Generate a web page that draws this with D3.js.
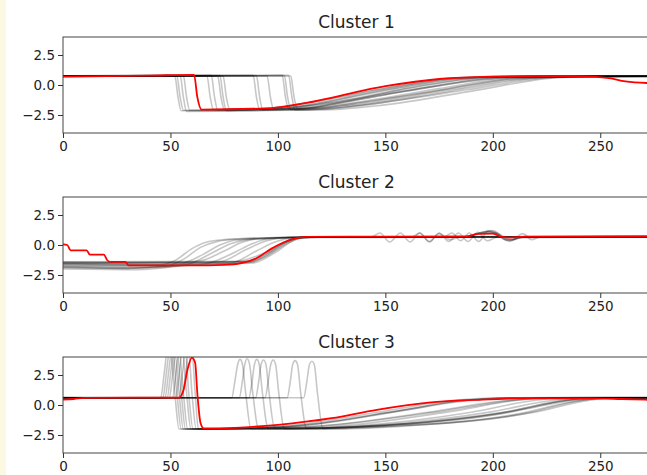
<!DOCTYPE html>
<html>
<head>
<meta charset="utf-8">
<script src="https://cdn.jsdelivr.net/npm/d3@7"></script>
<style>
  html, body { margin: 0; padding: 0; background: #ffffff; }
  svg { display: block; }
</style>
</head>
<body>
<svg id="chart" width="647" height="475"></svg>
<script>
// ---------- DATA (key points) ----------
const clusterTitles = ["Cluster 1", "Cluster 2", "Cluster 3"];
const xTicks = [0, 50, 100, 150, 200, 250];
const yTicks = [-2.5, 0, 2.5];
const xDomain = [0, 275];
const yDomain = [-4, 4];

// Cluster 1 members: [t, value] key points
const cluster1Series = [
  [[0,0.74],[52,0.78],[53.5,-1.0],[55,-2.15],[75,-2.15],[95,-1.95],[150,-0.25],[180,0.55],[205,0.72],[275,0.75]],
  [[0,0.72],[53,0.75],[54.5,-1.0],[56,-2.1],[80,-2.1],[105,-1.9],[150,-0.4],[185,0.55],[210,0.7],[275,0.74]],
  [[0,0.75],[54.5,0.8],[56,-1.0],[57.5,-2.2],[85,-2.15],[115,-1.85],[160,-0.5],[200,0.55],[225,0.7],[275,0.72]],
  [[0,0.73],[56,0.78],[57.5,-1.0],[59,-2.1],[90,-2.05],[110,-1.75],[155,-0.3],[190,0.6],[215,0.72],[275,0.75]],
  [[0,0.74],[67,0.75],[68.5,-1.0],[70,-2.05],[95,-2.0],[118,-1.65],[160,-0.3],[195,0.6],[220,0.72],[275,0.73]],
  [[0,0.76],[69,0.8],[70.5,-1.0],[72,-2.1],[100,-2.05],[125,-1.8],[170,-0.6],[210,0.55],[230,0.68],[275,0.72]],
  [[0,0.73],[72,0.75],[73.5,-1.0],[75,-2.0],[95,-1.95],[112,-1.55],[158,-0.05],[185,0.6],[210,0.72],[275,0.75]],
  [[0,0.75],[73,0.78],[74.5,-1.0],[76,-2.15],[105,-2.1],[135,-1.7],[180,-0.4],[215,0.55],[235,0.68],[275,0.72]],
  [[0,0.72],[74.5,0.75],[76,-1.0],[77.5,-2.0],[100,-2.0],[120,-1.6],[165,-0.3],[200,0.6],[222,0.72],[275,0.74]],
  [[0,0.76],[88.5,0.8],[90,-1.0],[91.5,-2.05],[110,-2.0],[130,-1.6],[175,-0.3],[208,0.6],[230,0.72],[275,0.75]],
  [[0,0.74],[90,0.78],[91.5,-1.0],[93,-2.1],[115,-2.05],[140,-1.7],[185,-0.35],[220,0.58],[240,0.7],[275,0.72]],
  [[0,0.73],[95,0.75],[96.5,-1.0],[98,-2.0],[112,-1.95],[128,-1.5],[170,-0.2],[205,0.6],[228,0.72],[275,0.74]],
  [[0,0.75],[102,0.8],[103.5,-1.0],[105,-2.0],[118,-1.95],[135,-1.55],[178,-0.35],[212,0.58],[232,0.7],[275,0.73]],
  [[0,0.74],[103,0.78],[104.5,-1.0],[106,-2.05],[122,-2.0],[142,-1.6],[188,-0.4],[222,0.55],[240,0.7],[275,0.75]],
  [[0,0.76],[105,0.8],[106.5,-1.0],[108,-2.1],[125,-2.05],[148,-1.7],[192,-0.45],[226,0.55],[245,0.7],[275,0.72]],
  [[0,0.73],[106,0.75],[107.5,-1.0],[109,-1.95],[115,-1.9],[128,-1.5],[165,-0.1],[195,0.6],[220,0.72],[275,0.74]]
];
const cluster1Center = [[0,0.7],[40,0.78],[61,0.85],[62.5,-1.0],[64.5,-2.05],[95,-1.95],[110,-1.6],[150,-0.1],[175,0.5],[200,0.7],[230,0.75],[245,0.7],[255,0.55],[260,0.35],[266,0.22],[275,0.15]];

// Cluster 2 members
const cluster2Series = [
  [[0,-1.5],[25,-1.6],[45,-1.65],[52,-1.3],[60,-0.3],[67,0.25],[75,0.45],[95,0.6],[115,0.65],[143,0.65],[147.5,1.0],[152,0.25],[157,1.0],[161.5,0.25],[166,1.0],[170.5,0.25],[175,0.95],[180,0.45],[185,0.65],[275,0.68]],
  [[0,-1.9],[30,-1.95],[48,-1.75],[56,-1.2],[64,-0.2],[72,0.3],[82,0.5],[110,0.65],[275,0.7]],
  [[0,-1.6],[40,-1.7],[55,-1.55],[65,-0.8],[73,0.0],[80,0.4],[95,0.55],[112,0.66],[162,0.66],[166,1.0],[170.5,0.3],[175,1.0],[179.5,0.3],[184,1.0],[188.5,0.3],[193,1.05],[197.5,0.35],[202,0.65],[275,0.66]],
  [[0,-1.8],[40,-1.9],[58,-1.6],[70,-0.6],[78,0.1],[86,0.45],[110,0.65],[275,0.7]],
  [[0,-1.4],[50,-1.45],[63,-1.35],[75,-0.5],[83,0.2],[90,0.5],[112,0.65],[177,0.65],[181,1.0],[185,0.35],[189,1.0],[193.5,0.3],[198,1.2],[203,0.9],[208,0.3],[214,0.95],[218,0.45],[222,0.65],[275,0.68]],
  [[0,-2.0],[35,-2.05],[55,-1.75],[68,-1.5],[80,-0.6],[88,0.1],[95,0.5],[112,0.65],[275,0.7]],
  [[0,-1.5],[60,-1.5],[73,-1.4],[85,-0.4],[93,0.25],[100,0.55],[113,0.66],[275,0.7]],
  [[0,-1.7],[50,-1.7],[78,-1.5],[90,-0.5],[98,0.2],[105,0.55],[115,0.66],[275,0.68]],
  [[0,-1.4],[85,-1.35],[96,-0.6],[103,0.2],[108,0.55],[115,0.66],[185,0.66],[191,0.85],[197,1.15],[202,0.95],[206,0.4],[210,0.5],[214,0.66],[275,0.7]],
  [[0,-1.5],[88,-1.4],[98,-0.5],[105,0.3],[110,0.6],[118,0.66],[186,0.66],[192,0.9],[198,1.1],[203,0.8],[207,0.35],[211,0.55],[215,0.66],[275,0.7]],
  [[0,-1.6],[50,-1.55],[88,-1.5],[99,-0.6],[106,0.25],[111,0.6],[120,0.66],[188,0.66],[194,0.95],[200,1.2],[204,0.8],[209,0.4],[213,0.6],[275,0.68]],
  [[0,-1.5],[86,-1.4],[97,-0.5],[104,0.3],[110,0.62],[185,0.66],[190,0.8],[196,1.05],[201,1.0],[205,0.5],[209,0.45],[214,0.66],[275,0.7]],
  [[0,-1.85],[30,-1.95],[45,-1.8],[60,-1.55],[80,-1.4],[92,-0.8],[102,0.1],[109,0.55],[116,0.66],[275,0.68]],
  [[0,-1.75],[40,-1.8],[70,-1.6],[85,-1.5],[95,-0.9],[104,0.1],[110,0.55],[118,0.66],[275,0.7]]
];
const cluster2Center = [[0,0.05],[2,0.0],[3.5,-0.45],[11,-0.45],[12.5,-0.8],[19,-0.8],[20.5,-1.25],[22,-1.4],[29,-1.4],[30.5,-1.7],[60,-1.7],[75,-1.65],[83,-1.5],[90,-1.1],[97,-0.3],[103,0.25],[108,0.55],[113,0.68],[150,0.7],[188,0.72],[193,0.92],[200,0.95],[204,0.68],[208,0.62],[215,0.7],[275,0.72]];

// Cluster 3 members
const cluster3Series = [
  [[0,0.6],[45.5,0.6],[47,2.5],[48.5,4.4],[50,4.4],[52,1.0],[54,-2.0],[70,-2.0],[100,-1.8],[150,-0.5],[180,0.35],[205,0.6],[275,0.6]],
  [[0,0.58],[46.5,0.6],[48,2.5],[49.5,4.4],[51,4.4],[53,1.0],[55,-2.0],[90,-2.0],[130,-1.85],[200,-0.8],[235,0.4],[255,0.58],[275,0.6]],
  [[0,0.62],[47.5,0.6],[49,2.5],[50.5,4.4],[52,4.4],[54,1.0],[56,-2.0],[80,-1.95],[105,-1.8],[155,-0.5],[185,0.35],[210,0.6],[275,0.62]],
  [[0,0.6],[48.5,0.62],[50,2.5],[51.5,4.4],[53,4.4],[55,1.0],[57,-2.0],[90,-1.95],[115,-1.8],[170,-0.6],[205,0.35],[225,0.6],[275,0.6]],
  [[0,0.6],[49.5,0.6],[51,2.5],[52.5,4.4],[54,4.4],[56,1.0],[58,-2.0],[100,-2.0],[140,-1.8],[205,-0.6],[235,0.45],[250,0.6],[275,0.58]],
  [[0,0.62],[51,0.6],[52.5,2.5],[54,4.4],[55.5,4.4],[57.5,1.0],[59.5,-2.0],[85,-1.95],[110,-1.75],[155,-0.55],[185,0.35],[210,0.58],[275,0.62]],
  [[0,0.6],[52.5,0.62],[54,2.5],[55.5,4.4],[57,4.4],[58.5,1.0],[60.5,-2.0],[95,-1.95],[120,-1.75],[175,-0.55],[210,0.4],[230,0.6],[275,0.6]],
  [[0,0.58],[54,0.6],[55.5,2.5],[57,4.4],[58.5,4.4],[60,1.0],[62,-2.0],[110,-1.95],[150,-1.7],[210,-0.5],[240,0.45],[255,0.6],[275,0.6]],
  [[0,0.62],[55.5,0.6],[57,2.5],[58.5,4.4],[60,4.4],[61.5,1.0],[63,-2.0],[90,-1.9],[110,-1.7],[158,-0.45],[188,0.35],[210,0.6],[275,0.62]],
  [[0,0.6],[78.5,0.6],[80,2.0],[81.3,3.4],[82.4,3.8],[83.5,3.4],[85,1.0],[87.5,-2.0],[105,-2.0],[140,-1.8],[205,-0.7],[235,0.4],[250,0.6],[275,0.6]],
  [[0,0.61],[82,0.6],[83.5,2.0],[84.6,3.4],[85.7,3.85],[86.8,3.4],[88.3,1.0],[91,-1.95],[100,-1.95],[125,-1.8],[180,-0.55],[212,0.4],[230,0.6],[275,0.6]],
  [[0,0.6],[86.5,0.6],[88,2.0],[89.1,3.4],[90.2,3.8],[91.3,3.4],[92.8,1.0],[95.5,-1.95],[110,-1.95],[145,-1.8],[210,-0.8],[240,0.35],[255,0.58],[275,0.6]],
  [[0,0.6],[89.6,0.6],[91.1,2.0],[92.2,3.4],[93.3,3.75],[94.4,3.4],[95.9,1.0],[98.5,-1.95],[110,-1.95],[135,-1.75],[190,-0.6],[220,0.4],[238,0.6],[275,0.6]],
  [[0,0.6],[94,0.6],[95.5,2.0],[96.7,3.4],[97.8,3.75],[98.9,3.4],[100.4,1.0],[103,-2.0],[115,-2.0],[150,-1.8],[215,-0.7],[242,0.4],[255,0.6],[275,0.6]],
  [[0,0.6],[104.3,0.6],[105.8,2.0],[106.9,3.4],[108,3.7],[109.1,3.4],[110.6,1.0],[113.3,-1.95],[120,-1.95],[145,-1.7],[200,-0.55],[228,0.4],[245,0.6],[275,0.6]],
  [[0,0.6],[112,0.6],[113.5,2.0],[114.7,3.4],[115.8,3.65],[116.9,3.4],[118.4,1.0],[121,-2.0],[125,-2.0],[155,-1.8],[218,-0.65],[245,0.4],[258,0.6],[275,0.6]]
];
const cluster3Center = [[0,0.45],[5,0.5],[10,0.6],[54,0.62],[56,1.2],[58,3.0],[60,3.95],[61.5,3.5],[62.5,1.0],[64,-1.5],[65.5,-1.95],[80,-1.9],[100,-1.65],[125,-1.1],[146,-0.4],[170,0.2],[195,0.45],[215,0.55],[245,0.56],[260,0.5],[275,0.42]];

const allSeries = [cluster1Series, cluster2Series, cluster3Series];
const allCenters = [cluster1Center, cluster2Center, cluster3Center];

// ---------- LAYOUT ----------
const svg = d3.select("#chart");
const W = 647, H = 475;
const plotLeft = 63, plotRight = 654;
const panelTops = [37, 197, 357];
const panelH = 96;
const font = "'DejaVu Sans', sans-serif";

svg.append("rect").attr("x", 0).attr("y", 0).attr("width", W).attr("height", H).attr("fill", "#ffffff");
svg.append("rect").attr("x", 0).attr("y", 0).attr("width", 6).attr("height", H).attr("fill", "#fcf9e3");

const x = d3.scaleLinear().domain(xDomain).range([plotLeft, plotRight]);

clusterTitles.forEach((title, i) => {
  const top = panelTops[i], bottom = top + panelH;
  const y = d3.scaleLinear().domain(yDomain).range([bottom, top]);
  const g = svg.append("g");

  const clipId = "clip" + i;
  svg.append("defs").append("clipPath").attr("id", clipId)
    .append("rect").attr("x", plotLeft).attr("y", top).attr("width", plotRight - plotLeft).attr("height", panelH);

  const line = d3.line().x(d => x(d[0])).y(d => y(d[1])).curve(d3.curveMonotoneX);

  const lines = g.append("g").attr("clip-path", `url(#${clipId})`);
  lines.selectAll("path.member").data(allSeries[i]).join("path")
    .attr("class", "member")
    .attr("d", line)
    .attr("fill", "none")
    .attr("stroke", "#000")
    .attr("stroke-opacity", 0.22)
    .attr("stroke-width", 1.6);
  lines.append("path").datum(allCenters[i])
    .attr("d", line)
    .attr("fill", "none")
    .attr("stroke", "#ff0000")
    .attr("stroke-width", 1.8);

  // axes
  const xAxis = d3.axisBottom(x).tickValues(xTicks).tickSize(5).tickPadding(3).tickFormat(d3.format("d"));
  const yAxis = d3.axisLeft(y).tickValues(yTicks).tickSize(5).tickPadding(3).tickFormat(d3.format(".1f"));
  const gx = g.append("g").attr("transform", `translate(0,${bottom})`).call(xAxis);
  const gy = g.append("g").attr("transform", `translate(${plotLeft},0)`).call(yAxis);
  [gx, gy].forEach(a => {
    a.select(".domain").remove();
    a.selectAll("line").attr("stroke", "#333").attr("stroke-width", 1);
    a.selectAll("text").attr("fill", "#222").style("font-family", font).style("font-size", "13.5px");
  });

  // spines (left, top, bottom; right spine lies beyond the window)
  g.append("rect").attr("x", plotLeft).attr("y", top).attr("width", plotRight - plotLeft).attr("height", panelH)
    .attr("fill", "none").attr("stroke", "#444").attr("stroke-width", 1);

  g.append("text").attr("x", (plotLeft + plotRight) / 2 - 2).attr("y", top - 9)
    .attr("text-anchor", "middle").attr("fill", "#222")
    .style("font-family", font).style("font-size", "17px").text(title);
});
</script>
</body>
</html>
